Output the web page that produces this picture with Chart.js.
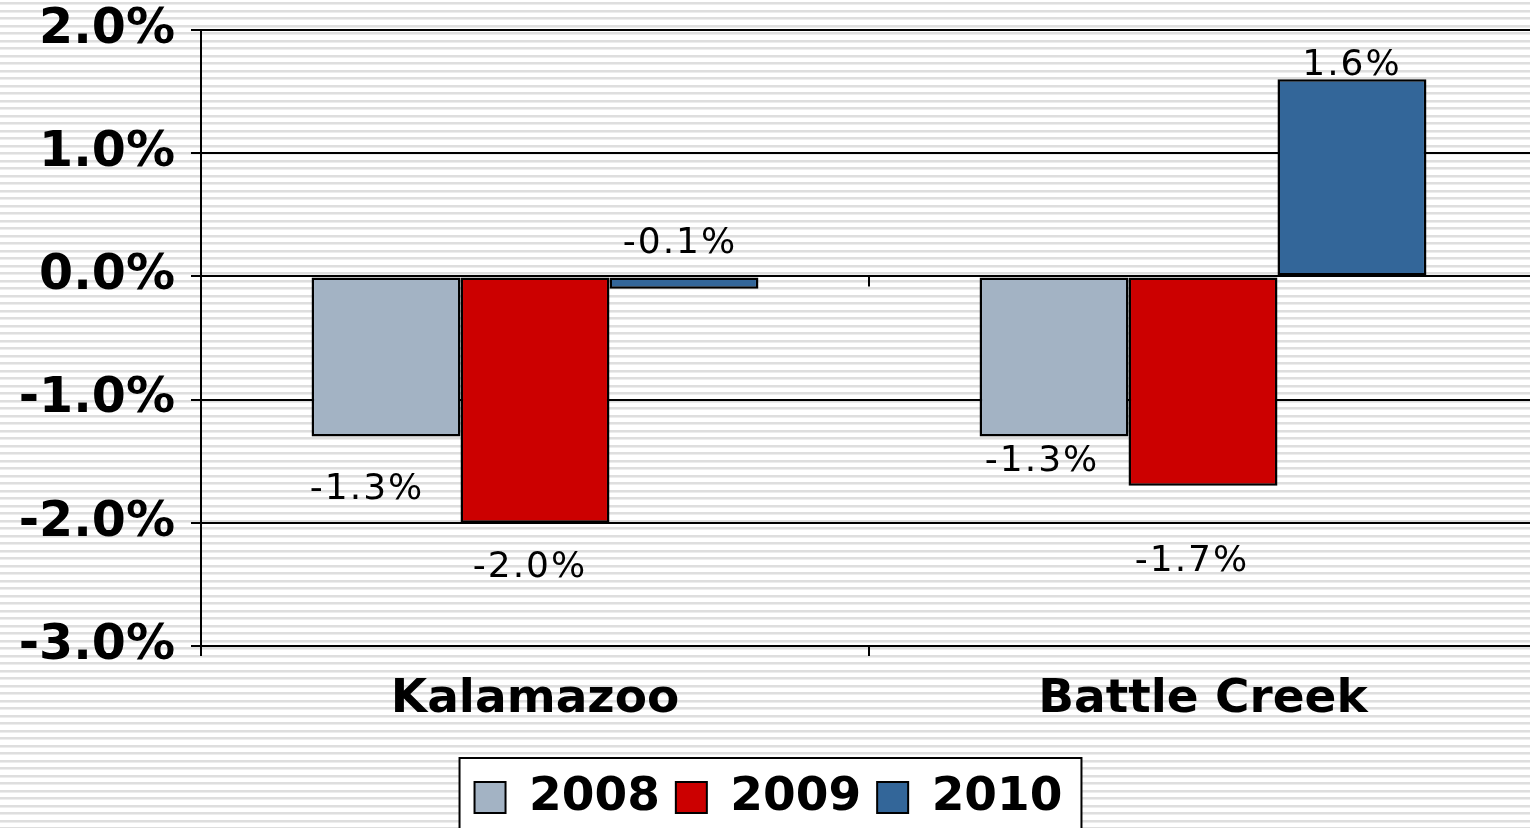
<!DOCTYPE html>
<html lang="en">
<head>
    <meta charset="UTF-8" />
    <title>Change by year</title>
    <script src="https://cdn.jsdelivr.net/npm/chart.js"></script>
    <style>
        html, body { margin: 0; padding: 0; overflow: hidden; background: #fff; }
        #wrap { width: 1540px; height: 831px; }
    </style>
</head>
<body>
<div id="wrap"><canvas id="chart" width="1540" height="831"></canvas></div>

<script>
    const categories = ['Kalamazoo', 'Battle Creek'];
    const seriesNames = ['2008', '2009', '2010'];
    const values2008 = [-1.3, -1.3];
    const values2009 = [-2.0, -1.7];
    const values2010 = [-0.1, 1.6];
    const yTicks = [2, 1, 0, -1, -2, -3];

    const colors = ['#a3b3c4', '#cc0000', '#336699'];
    const boldFont = 'DejaVu Sans';

    // striped background + white legend box
    const backdrop = {
        id: 'backdrop',
        beforeDraw(chart) {
            const { ctx, width, height } = chart;
            ctx.save();
            ctx.fillStyle = '#ffffff';
            ctx.fillRect(0, 0, width, height);
            for (let y = 2; y < height; y += 7.5) {
                const r = Math.round(y);
                ctx.fillStyle = '#dedede';
                ctx.fillRect(0, r, width, 2);
                ctx.fillStyle = '#ededed';
                ctx.fillRect(0, r + 2, width, 1);
            }

            const boxes = chart.legend.legendHitBoxes;
            if (boxes && boxes.length) {
                const left = Math.min(...boxes.map(b => b.left)) - 15;
                const right = Math.max(...boxes.map(b => b.left + b.width)) + 19;
                const top = chart.legend.top;
                ctx.fillStyle = '#ffffff';
                ctx.fillRect(left, top, right - left, height - top + 10);
                ctx.strokeStyle = '#000';
                ctx.lineWidth = 2;
                ctx.strokeRect(left, top, right - left, height - top + 10);
            }
            ctx.restore();
        }
    };

    // little category tick on the zero line + value labels
    const extras = {
        id: 'extras',
        afterDatasetsDraw(chart, args, opts) {
            const { ctx } = chart;
            const x = chart.scales.x, y = chart.scales.y;
            ctx.save();
            const mid = (x.getPixelForTick(0) + x.getPixelForTick(1)) / 2;
            const y0 = y.getPixelForValue(0);
            ctx.strokeStyle = '#000';
            ctx.lineWidth = 2;
            ctx.beginPath();
            ctx.moveTo(mid, y0);
            ctx.lineTo(mid, y0 + 10);
            ctx.stroke();

            ctx.font = '36px "DejaVu Sans"';
            ctx.letterSpacing = '2px';
            ctx.fillStyle = '#000';
            ctx.textAlign = 'center';
            ctx.textBaseline = 'middle';
            chart.data.datasets.forEach((ds, di) => {
                const meta = chart.getDatasetMeta(di);
                meta.data.forEach((bar, i) => {
                    const v = ds.data[i];
                    const txt = v.toFixed(1) + '%';
                    ctx.fillText(txt, bar.x + opts.dx[di][i], bar.y + opts.dy[di][i]);
                });
            });
            ctx.restore();
        }
    };

    const seriesValues = [values2008, values2009, values2010];

    new Chart(document.getElementById('chart'), {
        type: 'bar',
        data: {
            labels: categories,
            datasets: seriesNames.map((name, i) => ({
                label: name,
                data: seriesValues[i],
                backgroundColor: colors[i],
                borderColor: '#000',
                borderWidth: 2.5,
                borderSkipped: false,
                categoryPercentage: 0.669,
                barPercentage: 1
            }))
        },
        options: {
            responsive: false,
            animation: false,
            devicePixelRatio: 1,
            layout: { padding: { top: 30, right: 3, left: 0, bottom: 0 } },
            plugins: {
                tooltip: { enabled: false },
                legend: {
                    position: 'bottom',
                    labels: {
                        color: '#000',
                        font: { family: boldFont, size: 47, weight: 'bold' },
                        boxWidth: 31,
                        boxHeight: 31,
                        padding: 16,
                        generateLabels(chart) {
                            return chart.data.datasets.map((ds, i) => ({
                                text: ds.label,
                                fillStyle: ds.backgroundColor,
                                strokeStyle: '#000',
                                lineWidth: 2,
                                fontColor: '#000',
                                datasetIndex: i
                            }));
                        }
                    }
                },
                extras: {
                    dx: [[-19, -12], [-5, -11], [-4, 0]],
                    dy: [[53, 25], [45, 76], [-45, -14]]
                }
            },
            scales: {
                x: {
                    afterFit(scale) { scale.height = 112; },
                    border: { display: true, color: '#000', width: 2 },
                    grid: {
                        offset: true,
                        drawOnChartArea: false,
                        color: '#000',
                        lineWidth: 2,
                        tickLength: 10
                    },
                    ticks: {
                        color: '#000',
                        padding: 16,
                        font: { family: boldFont, size: 47, weight: 'bold' }
                    }
                },
                y: {
                    min: -3,
                    max: 2,
                    afterFit(scale) {
                        scale.width = 201;
                        scale.paddingTop = 0;
                        scale.paddingBottom = 0;
                    },
                    afterBuildTicks(scale) { scale.ticks = yTicks.map(v => ({ value: v })); },
                    border: { display: true, color: '#000', width: 2 },
                    grid: {
                        color: '#000',
                        lineWidth: 2,
                        tickLength: 10
                    },
                    ticks: {
                        color: '#000',
                        padding: 16,
                        font: { family: boldFont, size: 49, weight: 'bold' },
                        callback: v => v.toFixed(1) + '%'
                    }
                }
            }
        },
        plugins: [backdrop, extras]
    });
</script>
</body>
</html>
